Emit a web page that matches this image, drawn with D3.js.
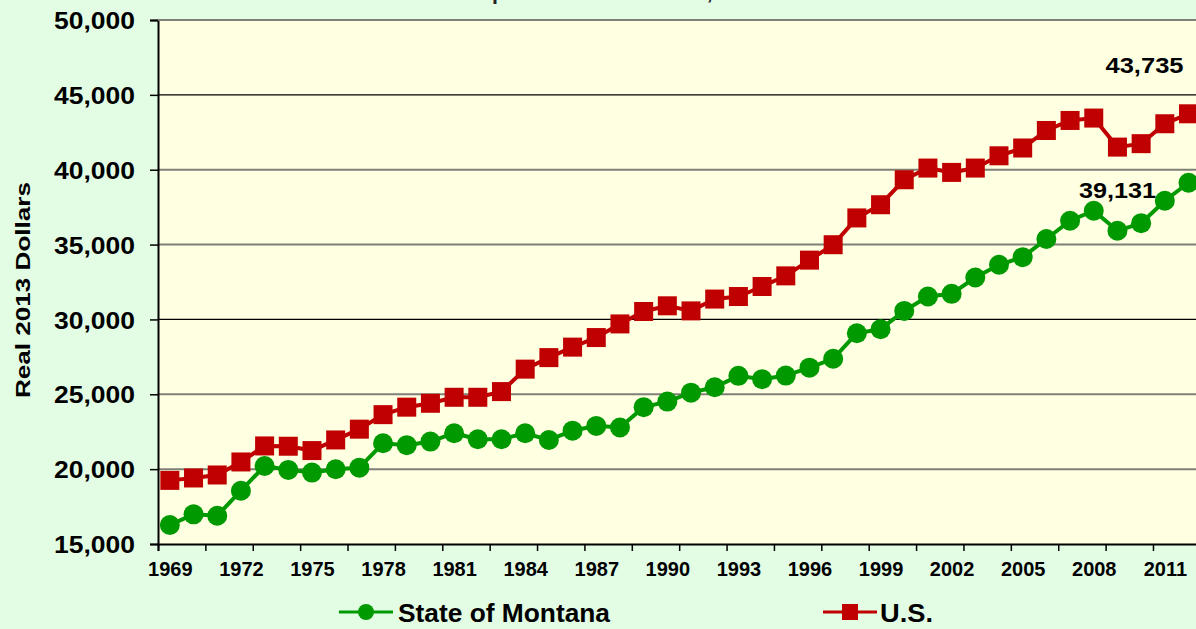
<!DOCTYPE html>
<html lang="en">
  <head>
    <meta charset="utf-8">
    <title>Per Capita Income, U.S. and Montana</title>
    <script src="https://d3js.org/d3.v7.min.js"></script>
    <style>
      body { margin: 0; background: #e3fde5; overflow: hidden; }
      svg { display: block; font-family: "Liberation Sans", Arial, sans-serif; font-weight: bold; }
    </style>
  </head>
  <body>
    <script>
      // data
      let years = d3.range(1969, 2013);
      let montana = [16270, 16980, 16890, 18560, 20210, 19950, 19770, 19990, 20100, 21730,
                     21600, 21840, 22400, 22000, 22000, 22400, 21950, 22570, 22890, 22780,
                     24140, 24510, 25110, 25470, 26230, 26010, 26250, 26780, 27370, 29080,
                     29350, 30570, 31530, 31710, 32800, 33650, 34160, 35370, 36590, 37260,
                     35920, 36430, 37930, 39131];
      let us = [19250, 19410, 19610, 20480, 21550, 21530, 21240, 21950, 22670, 23640,
                24140, 24400, 24800, 24800, 25180, 26680, 27450, 28150, 28790, 29700,
                30530, 30910, 30570, 31360, 31530, 32200, 32910, 33960, 34990, 36780,
                37660, 39330, 40110, 39820, 40110, 40930, 41450, 42620, 43290, 43450,
                41510, 41740, 43070, 43735];
      let yTicks = [15000, 20000, 25000, 30000, 35000, 40000, 45000, 50000];

      let W = 1196, H = 629;
      let mLeft = 158, mTop = 20, mBottom = 544;
      let step = 23.69;
      let mRight = mLeft + years.length * step;

      let svg = d3.select("body").append("svg")
                  .attr("width", W).attr("height", H);

      let x = d3.scaleLinear().domain([0, years.length]).range([mLeft, mRight]);
      let y = d3.scaleLinear().domain([15000, 50000]).range([mBottom, mTop]);

      // plot area
      svg.append("rect")
         .attr("x", mLeft).attr("y", mTop)
         .attr("width", mRight - mLeft).attr("height", mBottom - mTop)
         .attr("fill", "#ffffe1");

      // title (cut off at the top, only its lowest pixels show)
      svg.append("text")
         .attr("x", 661).attr("y", -1)
         .attr("text-anchor", "middle")
         .attr("font-size", 22)
         .attr("textLength", 473).attr("lengthAdjust", "spacingAndGlyphs")
         .attr("fill", "#222")
         .text("Per Capita Personal Income, U.S. and Montana");

      // gridlines
      svg.append("g").selectAll("line")
         .data(yTicks.slice(1))
         .enter().append("line")
         .attr("x1", mLeft).attr("x2", mRight)
         .attr("y1", d => y(d)).attr("y2", d => y(d))
         .attr("stroke", d => (d == 45000 || d == 30000) ? "#000" : "#7f7f78")
         .attr("stroke-width", d => (d == 45000 || d == 30000) ? 1.2 : 2);

      // y axis
      let yAxis = svg.append("g")
         .attr("transform", "translate(" + mLeft + ",0)")
         .call(d3.axisLeft(y).tickValues(yTicks).tickSize(8).tickFormat(d3.format(",")));
      yAxis.select(".domain").attr("stroke", "#000").attr("stroke-width", 2);
      yAxis.selectAll(".tick line").attr("stroke", "#000").attr("stroke-width", 1.5);
      yAxis.selectAll(".tick text")
           .attr("x", -23).attr("dy", "0.36em")
           .attr("font-size", 24).attr("font-family", "Liberation Sans, Arial, sans-serif")
           .attr("font-weight", "bold").attr("fill", "#000")
           .attr("textLength", 81).attr("lengthAdjust", "spacingAndGlyphs");

      // x axis: tick marks every 2 years, labels every 3 years
      let xMarks = svg.append("g")
         .attr("transform", "translate(0," + mBottom + ")")
         .call(d3.axisBottom(x).tickValues(d3.range(0, years.length + 1, 2)).tickSize(7).tickFormat(""));
      xMarks.select(".domain").attr("stroke", "#000").attr("stroke-width", 2);
      xMarks.selectAll(".tick line").attr("stroke", "#000").attr("stroke-width", 1.5);

      let labelIdx = years.map((d, i) => i).filter(i => i % 3 == 0);
      let xLabels = svg.append("g")
         .attr("transform", "translate(0," + mBottom + ")")
         .call(d3.axisBottom(x).tickValues(labelIdx.map(i => i + 0.5)).tickSize(0)
                 .tickFormat(d => years[Math.floor(d)]));
      xLabels.select(".domain").remove();
      xLabels.selectAll(".tick text")
             .attr("y", 32).attr("dy", 0)
             .attr("font-size", 20).attr("font-family", "Liberation Sans, Arial, sans-serif")
             .attr("font-weight", "bold").attr("fill", "#000");

      // top border of plot
      svg.append("line")
         .attr("x1", mLeft).attr("x2", mRight).attr("y1", mTop).attr("y2", mTop)
         .attr("stroke", "#7f7f78").attr("stroke-width", 2);

      // y axis title
      svg.append("text")
         .attr("transform", "translate(30,290) rotate(-90)")
         .attr("text-anchor", "middle")
         .attr("font-size", 21)
         .attr("textLength", 216).attr("lengthAdjust", "spacingAndGlyphs")
         .text("Real 2013 Dollars");

      let cx = i => x(i + 0.5);
      let line = d3.line().x((d, i) => cx(i)).y(d => y(d));

      // U.S. series
      svg.append("path").datum(us)
         .attr("d", line).attr("fill", "none")
         .attr("stroke", "#c00000").attr("stroke-width", 4);
      svg.append("g").selectAll("rect")
         .data(us).enter().append("rect")
         .attr("x", (d, i) => cx(i) - 9.5).attr("y", d => y(d) - 9.5)
         .attr("width", 19).attr("height", 19)
         .attr("fill", "#c00000");

      // Montana series
      svg.append("path").datum(montana)
         .attr("d", line).attr("fill", "none")
         .attr("stroke", "#009900").attr("stroke-width", 4);
      svg.append("g").selectAll("circle")
         .data(montana).enter().append("circle")
         .attr("cx", (d, i) => cx(i)).attr("cy", d => y(d))
         .attr("r", 10).attr("fill", "#009900");

      // value labels on the last points
      let last = years.length - 1;
      svg.append("text")
         .attr("x", cx(last) - 44).attr("y", y(us[last]) - 41)
         .attr("text-anchor", "middle").attr("font-size", 22)
         .attr("textLength", 78).attr("lengthAdjust", "spacingAndGlyphs")
         .text(d3.format(",")(us[last]));
      svg.append("text")
         .attr("x", cx(last) - 71).attr("y", y(montana[last]) + 15)
         .attr("text-anchor", "middle").attr("font-size", 22)
         .attr("textLength", 77).attr("lengthAdjust", "spacingAndGlyphs")
         .text(d3.format(",")(montana[last]));

      // legend
      let lg = svg.append("g");
      lg.append("line").attr("x1", 339).attr("x2", 393).attr("y1", 612).attr("y2", 612)
        .attr("stroke", "#009900").attr("stroke-width", 3);
      lg.append("circle").attr("cx", 366).attr("cy", 612).attr("r", 8).attr("fill", "#009900");
      lg.append("text").attr("x", 398).attr("y", 622).attr("font-size", 25)
        .attr("textLength", 212).attr("lengthAdjust", "spacingAndGlyphs")
        .text("State of Montana");
      lg.append("line").attr("x1", 823).attr("x2", 877).attr("y1", 612).attr("y2", 612)
        .attr("stroke", "#c00000").attr("stroke-width", 3);
      lg.append("rect").attr("x", 842).attr("y", 604).attr("width", 16).attr("height", 16)
        .attr("fill", "#c00000");
      lg.append("text").attr("x", 880).attr("y", 622).attr("font-size", 25)
        .attr("textLength", 53).attr("lengthAdjust", "spacingAndGlyphs")
        .text("U.S.");
    </script>
  </body>
</html>
